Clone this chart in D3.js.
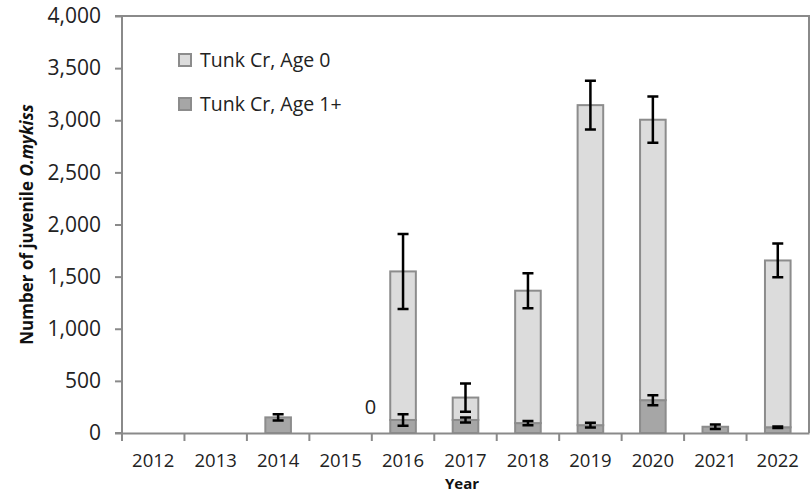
<!DOCTYPE html>
<html>
<head>
<meta charset="utf-8">
<script src="https://cdn.jsdelivr.net/npm/d3@7/dist/d3.min.js"></script>
<style>
  body { margin: 0; background: #fff; }
  svg { display: block; font-family: "Open Sans", sans-serif; }
  .tick text { fill: #222; }
</style>
</head>
<body>
<div id="chart"></div>
<script>
const years = ['2012', '2013', '2014', '2015', '2016', '2017', '2018', '2019', '2020', '2021', '2022'];
// Age 1+ (bottom segment) and Age 0 (stacked on top), with error bar half-widths
const age1 = [null, null, 150, null, 125, 125, 95, 75, 315, 60, 55];
const age1Err = [null, null, 30, null, 55, 24, 21, 23, 48, 22, 8];
const age0 = [null, null, null, null, 1425, 215, 1270, 3070, 2690, null, 1600];
const age0Err = [null, null, null, null, 360, 136, 168, 233, 222, null, 162];
const yTicks = [0, 500, 1000, 1500, 2000, 2500, 3000, 3500, 4000];
const zeroLabel = { year: '2015', text: '0' };

const width = 812, height = 493;
const plot = { left: 122, right: 809, top: 16, bottom: 433 };

const colors = {
  age0: '#dcdcdc',
  age1: '#a6a6a6',
  stroke: '#8c8c8c',
  axis: '#8a8a8a'
};

const svg = d3.select('#chart').append('svg')
  .attr('width', width)
  .attr('height', height);

const scaleX = d3.scaleBand()
  .domain(years)
  .range([plot.left, plot.right])
  .padding(0);

const scaleY = d3.scaleLinear()
  .domain([0, 4000])
  .range([plot.bottom, plot.top]);

const barW = scaleX.bandwidth() * 0.41;
const barX = d => scaleX(d) + (scaleX.bandwidth() - barW) / 2;
const midX = d => scaleX(d) + scaleX.bandwidth() / 2;

// plot frame top + right
svg.append('path')
  .attr('d', `M${plot.left},${plot.top}H${plot.right}V${plot.bottom}`)
  .attr('fill', 'none')
  .attr('stroke', colors.axis)
  .attr('stroke-width', 2);

// bars
const rows = years.map((y, i) => ({
  year: y, a1: age1[i] || 0, e1: age1Err[i], a0: age0[i] || 0, e0: age0Err[i]
}));

const groupBars = svg.append('g');

groupBars.selectAll('rect.age1')
  .data(rows.filter(d => d.a1 > 0))
  .enter().append('rect')
  .attr('class', 'age1')
  .attr('x', d => barX(d.year))
  .attr('width', barW)
  .attr('y', d => scaleY(d.a1))
  .attr('height', d => scaleY(0) - scaleY(d.a1))
  .attr('fill', colors.age1)
  .attr('stroke', colors.stroke)
  .attr('stroke-width', 2);

groupBars.selectAll('rect.age0')
  .data(rows.filter(d => d.a0 > 0))
  .enter().append('rect')
  .attr('class', 'age0')
  .attr('x', d => barX(d.year))
  .attr('width', barW)
  .attr('y', d => scaleY(d.a1 + d.a0))
  .attr('height', d => scaleY(d.a1) - scaleY(d.a1 + d.a0))
  .attr('fill', colors.age0)
  .attr('stroke', colors.stroke)
  .attr('stroke-width', 2);

// error bars
const errData = [];
rows.forEach(d => {
  if (d.e1 != null) errData.push({ year: d.year, v: d.a1, e: d.e1 });
  if (d.e0 != null) errData.push({ year: d.year, v: d.a1 + d.a0, e: d.e0 });
});
const capW = 5.5;
const groupErr = svg.append('g')
  .attr('stroke', '#000')
  .attr('stroke-width', 2.5)
  .attr('fill', 'none');

groupErr.selectAll('path')
  .data(errData)
  .enter().append('path')
  .attr('d', d => {
    const x = midX(d.year), y1 = scaleY(d.v + d.e), y2 = scaleY(d.v - d.e);
    return `M${x},${y1}V${y2}M${x - capW},${y1}H${x + capW}M${x - capW},${y2}H${x + capW}`;
  });

// axes
const axisY = d3.axisLeft(scaleY)
  .tickValues(yTicks)
  .tickSize(7)
  .tickPadding(14)
  .tickFormat(d3.format(','));

const gY = svg.append('g')
  .attr('transform', `translate(${plot.left},0)`)
  .call(axisY);

const axisX = d3.axisBottom(scaleX).tickSize(0).tickPadding(21);
const gX = svg.append('g')
  .attr('transform', `translate(0,${plot.bottom})`)
  .call(axisX);

// x ticks at category boundaries
gX.selectAll('line.boundary')
  .data(years)
  .enter().append('line')
  .attr('class', 'boundary')
  .attr('x1', d => scaleX(d)).attr('x2', d => scaleX(d))
  .attr('y1', 0).attr('y2', 8)
  .attr('stroke', colors.axis)
  .attr('stroke-width', 2);

[gX, gY].forEach(g => {
  g.select('.domain').attr('stroke', colors.axis).attr('stroke-width', 2);
  g.selectAll('.tick line').attr('stroke', colors.axis).attr('stroke-width', 2);
  g.selectAll('.tick text').attr('font-family', '"Open Sans", sans-serif');
});
gX.selectAll('.tick text').attr('font-size', 18.5);
gY.selectAll('.tick text').attr('font-size', 21);
gY.select('.domain').attr('d', `M-7,${plot.top}H0V${plot.bottom}H-7`);

// zero label for 2015
svg.append('text')
  .attr('x', midX(zeroLabel.year) + 30)
  .attr('y', scaleY(0) - 19)
  .attr('text-anchor', 'middle')
  .attr('font-size', 20)
  .attr('fill', '#222')
  .text(zeroLabel.text);

// axis titles
const yTitle = svg.append('text')
  .attr('transform', `translate(33,${(plot.top + plot.bottom) / 2}) rotate(-90)`)
  .attr('text-anchor', 'middle')
  .attr('font-size', 17)
  .attr('font-weight', 'bold')
  .attr('fill', '#111');
yTitle.append('tspan').text('Number of juvenile ');
yTitle.append('tspan').attr('font-style', 'italic').text('O.mykiss');

svg.append('text')
  .attr('x', 462)
  .attr('y', 489)
  .attr('text-anchor', 'middle')
  .attr('font-size', 15)
  .attr('font-weight', 'bold')
  .attr('fill', '#111')
  .text('Year');

// legend
const legendItems = [
  { label: 'Tunk Cr, Age 0', fill: colors.age0 },
  { label: 'Tunk Cr, Age 1+', fill: colors.age1 }
];
const legend = svg.append('g').attr('transform', 'translate(178,53)');
const li = legend.selectAll('g')
  .data(legendItems)
  .enter().append('g')
  .attr('transform', (d, i) => `translate(0,${i * 44})`);
li.append('rect')
  .attr('x', 1).attr('y', 1)
  .attr('width', 12).attr('height', 12)
  .attr('fill', d => d.fill)
  .attr('stroke', colors.stroke)
  .attr('stroke-width', 2);
li.append('text')
  .attr('x', 22)
  .attr('y', 14)
  .attr('font-size', 19.5)
  .attr('fill', '#222')
  .text(d => d.label);
</script>
</body>
</html>
